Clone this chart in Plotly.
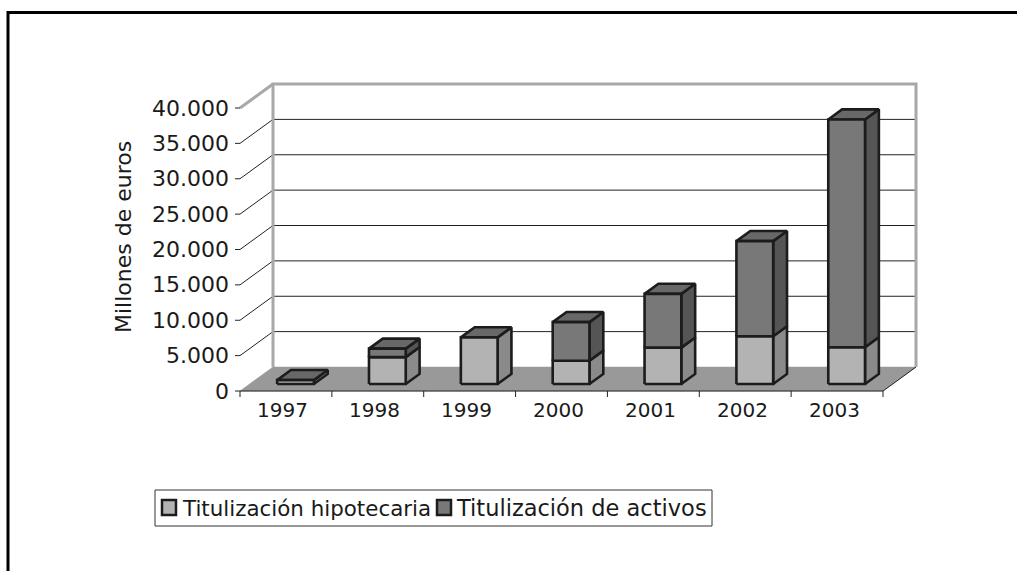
import plotly.graph_objects as go

# ---------------- data ----------------
years = ["1997", "1998", "1999", "2000", "2001", "2002", "2003"]
hipotecaria = [550, 3800, 6600, 3300, 5150, 6750, 5200]
activos = [0, 1200, 0, 5450, 7600, 13450, 32200]
series_names = ["Titulización hipotecaria", "Titulización de activos"]
y_tick_values = [0, 5000, 10000, 15000, 20000, 25000, 30000, 35000, 40000]
y_tick_labels = ["0", "5.000", "10.000", "15.000", "20.000", "25.000",
                 "30.000", "35.000", "40.000"]
y_title = "Millones de euros"

# ---------------- layout constants ----------------
W, H = 1017, 571
AX_LEFT, AX_RIGHT = 240, 883      # front x-axis extent (px)
AX_ZERO, AX_TOP = 391, 108        # front value axis: 0 and max (px from top)
YMAX = 40000
DEPTH_PX = (33, -24)              # oblique depth vector (px)
n = len(years)
ppx = (AX_RIGHT - AX_LEFT) / n
ppy = (AX_ZERO - AX_TOP) / YMAX
x_range = [-AX_LEFT / ppx, (W - AX_LEFT) / ppx]
y_range = [-(H - AX_ZERO) / ppy, AX_ZERO / ppy]
DX = DEPTH_PX[0] / ppx
DY = -DEPTH_PX[1] / ppy
BAR_L, BAR_R = 0.30, 0.70         # bar extent within category
D_A, D_B = 0.29, 0.71             # bar depth extent

FONT = "DejaVu Sans"
TXT = "#1a1a1a"
EDGE = "#1c1c1c"
HIP = dict(front="#b3b3b3", side="#8a8a8a", top="#9c9c9c")
ACT = dict(front="#787878", side="#555555", top="#686868")
FLOOR = "#999999"
WALL_EDGE = "#a8a8a8"


def P(x, v, d):
    return (x + d * DX, v + d * DY)


def dpx(px):          # horizontal pixel length -> x data units
    return px / ppx


def dpy(px):          # vertical pixel length -> value units
    return px / ppy


fig = go.Figure()


def poly_trace(polys, fill, line_color=EDGE, width=2.6):
    xs, ys = [], []
    for poly in polys:
        for (x, y) in poly:
            xs.append(x)
            ys.append(y)
        xs.append(poly[0][0])
        ys.append(poly[0][1])
        xs.append(None)
        ys.append(None)
    fig.add_trace(go.Scatter(x=xs, y=ys, mode="lines", fill="toself",
                             fillcolor=fill,
                             line=dict(color=line_color, width=width),
                             hoverinfo="skip", showlegend=False))


def line_trace(pts, color, width):
    fig.add_trace(go.Scatter(x=[p[0] for p in pts], y=[p[1] for p in pts],
                             mode="lines", line=dict(color=color, width=width),
                             hoverinfo="skip", showlegend=False))


# floor
floor = [P(0, 0, 0), P(n, 0, 0), P(n, 0, 1), P(0, 0, 1)]
poly_trace([floor], FLOOR, line_color=FLOOR, width=0.5)
line_trace([P(n, 0, 0), P(n, 0, 1)], "#222222", 1)

# back-wall gridlines and left-wall diagonals
for v in y_tick_values[1:-1]:
    line_trace([P(0, v, 1), P(n, v, 1)], "#222222", 1)
    line_trace([P(0, v, 0), P(0, v, 1)], "#222222", 1)
# wall borders
line_trace([P(0, 0, 1), P(0, YMAX, 1), P(n, YMAX, 1), P(n, 0, 1)], WALL_EDGE, 3)
line_trace([P(0, YMAX, 0), P(0, YMAX, 1)], WALL_EDGE, 3)

# front axis line + ticks
line_trace([P(0, 0, 0), P(n, 0, 0)], "#222222", 1)
for k in range(n + 1):
    line_trace([(k, 0), (k, -dpy(6))], "#222222", 1)
for v in y_tick_values:
    line_trace([(-dpx(5), v), (0, v)], "#222222", 1)

# bars
faces = {("hip", "side"): [], ("act", "side"): [], ("act", "top"): [],
         ("hip", "front"): [], ("act", "front"): []}
for i in range(n):
    xl, xr = i + BAR_L, i + BAR_R
    segs = [("hip", 0, hipotecaria[i]),
            ("act", hipotecaria[i], hipotecaria[i] + activos[i])]
    for key, y0, y1 in segs:
        if y1 > y0:
            faces[(key, "front")].append([P(xl, y0, D_A), P(xr, y0, D_A),
                                          P(xr, y1, D_A), P(xl, y1, D_A)])
            faces[(key, "side")].append([P(xr, y0, D_A), P(xr, y0, D_B),
                                         P(xr, y1, D_B), P(xr, y1, D_A)])
    ytop = hipotecaria[i] + activos[i]
    faces[("act", "top")].append([P(xl, ytop, D_A), P(xr, ytop, D_A),
                                  P(xr, ytop, D_B), P(xl, ytop, D_B)])

colors = {"hip": HIP, "act": ACT}
for (key, face), polys in faces.items():
    if polys:
        poly_trace(polys, colors[key][face])

# ---------------- texts ----------------
ann = []
for v, lab in zip(y_tick_values, y_tick_labels):
    ann.append(dict(x=-dpx(9), y=v, text=lab, xanchor="right", yanchor="middle",
                    showarrow=False, font=dict(family=FONT, size=22, color=TXT)))
for i, yr in enumerate(years):
    ann.append(dict(x=i + 0.5 - dpx(3), y=-dpy(19), text=yr, xanchor="center",
                    yanchor="middle", showarrow=False,
                    font=dict(family=FONT, size=20, color=TXT)))
ann.append(dict(x=123 / W, y=1 - 237 / H, xref="paper", yref="paper",
                text=y_title, textangle=-90, showarrow=False,
                xanchor="center", yanchor="middle",
                font=dict(family=FONT, size=22, color=TXT)))

# ---------------- legend (manual) ----------------
shapes = []
def pxrect(x0, y0, x1, y1, **kw):
    shapes.append(dict(type="rect", xref="paper", yref="paper",
                       x0=x0 / W, x1=x1 / W, y0=1 - y0 / H, y1=1 - y1 / H, **kw))

pxrect(155, 490, 712, 526, line=dict(color="#333333", width=1), fillcolor="white")
leg_items = [(162, 180, 21.4, HIP["front"]), (437, 454, 22.5, ACT["front"])]
for (mx, tx, fs, col), name in zip(leg_items, series_names):
    pxrect(mx, 500, mx + 14, 515, line=dict(color=EDGE, width=2.5), fillcolor=col)
    ann.append(dict(x=tx / W, y=1 - 508 / H, xref="paper", yref="paper",
                    text=name, xanchor="left", yanchor="middle", showarrow=False,
                    font=dict(family=FONT, size=fs, color=TXT)))

# outer frame (left and top borders)
shapes.append(dict(type="path", xref="paper", yref="paper",
                   path=f"M {8/W},0 L {8/W},{1-12.5/H} L 1,{1-12.5/H}",
                   line=dict(color="black", width=3)))

fig.update_layout(
    width=W, height=H,
    margin=dict(l=0, r=0, t=0, b=0, pad=0),
    paper_bgcolor="white", plot_bgcolor="white",
    xaxis=dict(range=x_range, visible=False, fixedrange=True),
    yaxis=dict(range=y_range, visible=False, fixedrange=True),
    showlegend=False,
    annotations=ann, shapes=shapes,
)

fig.write_html("out.html", config={"displayModeBar": False},
               post_script="document.body.style.margin='0';"
                           "document.body.style.overflow='hidden';")
